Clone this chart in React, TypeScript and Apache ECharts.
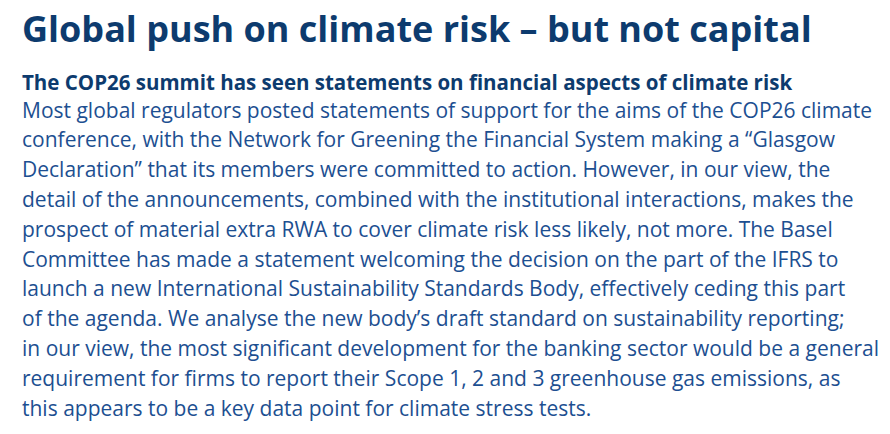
import React, { useEffect, useRef } from "react";
import * as echarts from "echarts";

const title = "Global push on climate risk – but not capital";
const subtitle = "The COP26 summit has seen statements on financial aspects of climate risk";
const bodyLines = [
  "Most global regulators posted statements of support for the aims of the COP26 climate",
  "conference, with the Network for Greening the Financial System making a “Glasgow",
  "Declaration” that its members were committed to action. However, in our view, the",
  "detail of the announcements, combined with the institutional interactions, makes the",
  "prospect of material extra RWA to cover climate risk less likely, not more. The Basel",
  "Committee has made a statement welcoming the decision on the part of the IFRS to",
  "launch a new International Sustainability Standards Body, effectively ceding this part",
  "of the agenda. We analyse the new body’s draft standard on sustainability reporting;",
  "in our view, the most significant development for the banking sector would be a general",
  "requirement for firms to report their Scope 1, 2 and 3 greenhouse gas emissions, as",
  "this appears to be a key data point for climate stress tests.",
];

const App: React.FC = () => {
  const ref = useRef<HTMLDivElement>(null);

  useEffect(() => {
    const chart = echarts.init(ref.current, null, { renderer: "svg" });
    const font = "Open Sans, Noto Sans, sans-serif";
    const elements: any[] = [
      {
        type: "text",
        left: 14,
        top: 2,
        style: { text: title, fill: "#0d3b6e", font: `bold 36px ${font}` },
      },
      {
        type: "text",
        left: 14,
        top: 63,
        style: { text: subtitle, fill: "#0d3b6e", font: `bold 20.5px ${font}` },
      },
    ];
    bodyLines.forEach((line, i) => {
      elements.push({
        type: "text",
        left: 14,
        top: 91 + i * 29.8,
        style: { text: line, fill: "#1d4f91", font: `21px ${font}` },
      });
    });
    chart.setOption({ animation: false, graphic: elements });
    return () => chart.dispose();
  }, []);

  return <div ref={ref} style={{ width: 882, height: 426 }} />;
};

export default App;
